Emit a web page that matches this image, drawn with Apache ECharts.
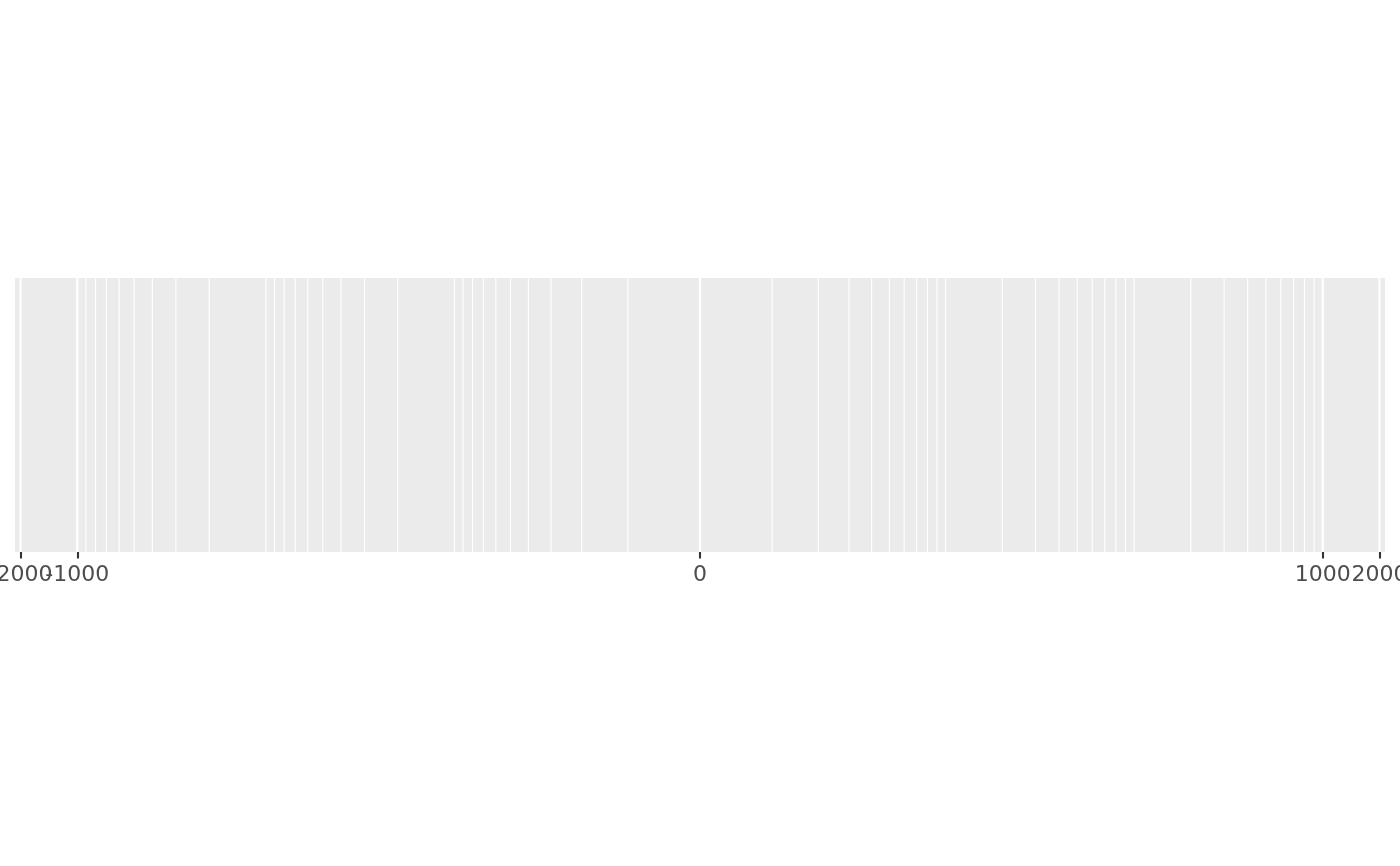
<!DOCTYPE html>
<html>
<head>
<meta charset="utf-8">
<script src="https://cdn.jsdelivr.net/npm/echarts@6/dist/echarts.min.js"></script>
<style>html,body{margin:0;padding:0;background:#fff;}#c{width:1400px;height:866px;}</style>
</head>
<body>
<div id="c"></div>
<script>
// Data limits (original units) and break positions (original units)
const dataLimits = [-1000, 1000];
const majorBreaks = [-2000, -1000, 0, 1000, 2000];
const tickLabels = ['-2000', '-1000', '0', '1000', '2000'];
const minorBreaks = [
  -900, -800, -700, -600, -500, -400, -300, -200, -100,
  -90, -80, -70, -60, -50, -40, -30, -20, -10,
  -9, -8, -7, -6, -5, -4, -3, -2, -1,
  1, 2, 3, 4, 5, 6, 7, 8, 9,
  10, 20, 30, 40, 50, 60, 70, 80, 90,
  100, 200, 300, 400, 500, 600, 700, 800, 900
];

// asinh transform (scale transform), with 5% expansion on the transformed range
const tr = v => Math.asinh(v);
const tMin = tr(dataLimits[0]), tMax = tr(dataLimits[1]);
const pad = (tMax - tMin) * 0.05;
const axisMin = tMin - pad, axisMax = tMax + pad;

const majorT = majorBreaks.map(tr);
const minorT = minorBreaks.map(tr);
// split labels over two overlaid axes so that touching labels are all drawn
const labelsA = majorT.filter((v, i) => i % 2 === 0);
const labelsB = majorT.filter((v, i) => i % 2 === 1);

function labelFor(v) {
  let best = 0, d = Infinity;
  majorT.forEach((m, i) => { const dd = Math.abs(m - v); if (dd < d) { d = dd; best = i; } });
  return tickLabels[best];
}

function makeAxis(labelVals, showTicks) {
  return {
    type: 'value',
    position: 'bottom',
    min: axisMin, max: axisMax,
    axisLine: { show: false },
    splitLine: { show: false },
    axisTick: {
      show: showTicks, length: 6.5, customValues: majorT,
      lineStyle: { color: '#333333', width: 2.1 }
    },
    axisLabel: {
      show: true, customValues: labelVals, margin: 12.5,
      hideOverlap: false,
      color: '#4D4D4D', fontSize: 22, fontFamily: 'DejaVu Sans',
      formatter: labelFor
    }
  };
}

function gridLineSeries(values, width) {
  return {
    type: 'custom',
    silent: true,
    coordinateSystem: 'cartesian2d',
    xAxisIndex: 0,
    data: values.map(v => [v, 0]),
    clip: true,
    renderItem: function (params, api) {
      const x = api.coord([api.value(0), 0])[0];
      const cs = params.coordSys;
      return {
        type: 'line',
        shape: { x1: x, y1: cs.y, x2: x, y2: cs.y + cs.height },
        style: { stroke: '#FFFFFF', lineWidth: width }
      };
    }
  };
}

const chart = echarts.init(document.getElementById('c'), null, { renderer: 'canvas' });
chart.setOption({
  animation: false,
  backgroundColor: '#FFFFFF',
  grid: {
    left: 15, right: 15, top: 278, bottom: 314,
    show: true, backgroundColor: '#EBEBEB', borderWidth: 0,
    containLabel: false,
    outerBoundsMode: 'none'
  },
  xAxis: [makeAxis(labelsA, true), makeAxis(labelsB, false)],
  yAxis: { type: 'value', min: 0, max: 1, show: false },
  series: [
    gridLineSeries(minorT, 1.1),
    gridLineSeries(majorT, 2.2)
  ]
});
</script>
</body>
</html>
